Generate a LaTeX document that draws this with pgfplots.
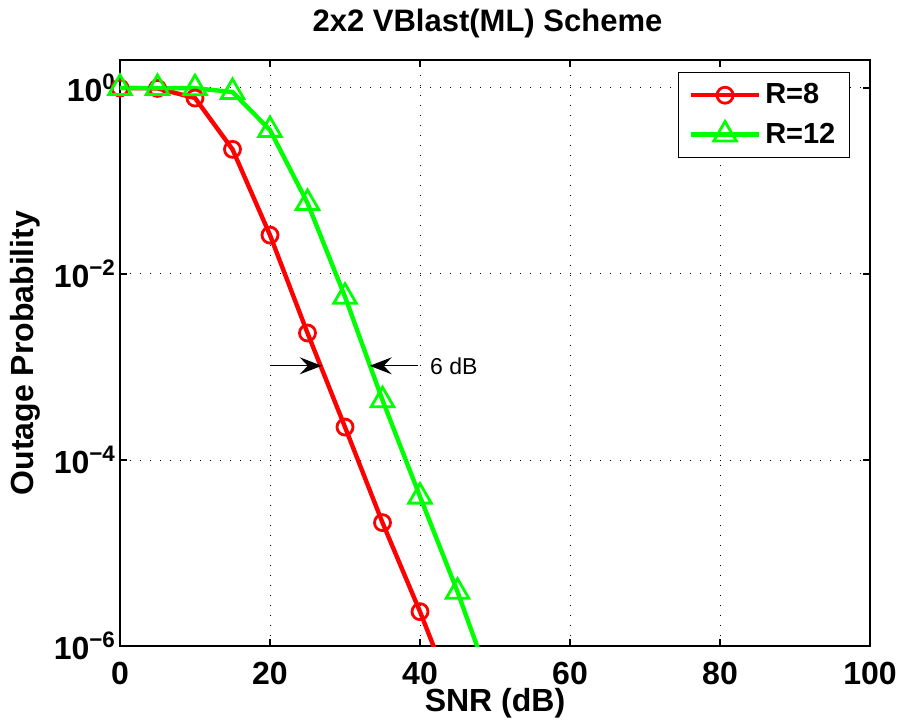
\documentclass[border=0pt]{standalone}
\usepackage{fontspec}
\setmainfont{Liberation Sans}
\usepackage{pgfplots}
\pgfplotsset{compat=1.18}
\usetikzlibrary{arrows.meta}
\definecolor{mred}{RGB}{255,0,0}
\definecolor{mgreen}{RGB}{0,255,0}
\pgfplotstableread{
x y
0 1.0
5 0.99
10 0.78
15 0.219
20 0.0262
25 0.00232
30 2.26e-4
35 2.12e-5
40 2.34e-6
45 2.2e-7
}\rate
\pgfplotstableread{
x y
0 1.0
5 1.0
10 0.995
15 0.905
20 0.353
25 0.058
30 0.0057
35 4.4e-4
40 4.04e-5
45 3.84e-6
50 2.9e-7
}\ratetwelve
\begin{document}
\begin{tikzpicture}
\begin{axis}[
  scale only axis,
  width=375pt, height=293pt,
  ymode=log,
  xmin=0, xmax=100,
  ymin=1e-6, ymax=2,
  axis line style={line width=0.8pt},
  every tick/.style={black, line width=0.6pt},
  major tick length=3.75pt,
  tick align=inside,
  xtick={0,20,40,60,80,100},
  xticklabels={0,20,40,60,80,100},
  ytick={1e-6,1e-4,1e-2,1},
  yticklabels={{10\textsuperscript{−6}},{10\textsuperscript{−4}},{10\textsuperscript{−2}},{10\textsuperscript{0}}},
  yminorticks=false,
  /pgf/number format/assume math mode=true,
  ticklabel style={font=\fontsize{16}{19}\selectfont\bfseries},
  xticklabel style={anchor=base, yshift=-19pt, inner xsep=0pt},
  yticklabel style={yshift=0pt, xshift=1.5pt},
  grid=major,
  major grid style={black, line width=0.5pt, dash pattern=on 0.6pt off 4.4pt},
  clip=true,
  title={2x2 VBlast(ML) Scheme},
  every axis title/.style={font=\fontsize{15.5}{18}\selectfont\bfseries, at={(axis description cs:0.49,1.062)}, anchor=center},
  xlabel={SNR (dB)},
  every axis x label/.style={font=\fontsize{16}{19}\selectfont\bfseries, at={(axis description cs:0.5,-0.111)}, anchor=base},
  ylabel={Outage Probability},
  every axis y label/.style={font=\fontsize{16}{19}\selectfont\bfseries, at={(axis description cs:-0.115,0.5)}, anchor=base, rotate=90},
  legend style={at={(rel axis cs:0.9733,0.9795)}, anchor=north east, draw=black, line width=0.6pt,
    font=\fontsize{14.5}{17}\selectfont\bfseries, inner xsep=5pt, inner ysep=3.5pt,
    row sep=4pt, nodes={inner sep=2pt}},
  legend cell align=left,
  legend image code/.code={\draw[mark repeat=2,mark phase=2] plot coordinates {(0pt,0pt) (17pt,0pt) (34pt,0pt)};},
]
\addplot[color=mred, line width=2.2pt, mark=o, mark size=4pt, mark options={line width=1.4pt, solid}] table[x=x,y=y] {\rate};
\addlegendentry{R=8}
\addplot[color=mgreen, line width=2.2pt, mark=triangle, mark size=6.5pt, mark options={line width=1.4pt, solid}] table[x=x,y=y] {\ratetwelve};
\addlegendentry{R=12}
\draw[line width=0.6pt, black, -{Stealth[length=11pt,width=8.5pt,inset=4pt]}] (axis cs:20,1.03e-3) -- (axis cs:26.9,1.03e-3);
\draw[line width=0.6pt, black, -{Stealth[length=11pt,width=8.5pt,inset=4pt]}] (axis cs:39.7,1.03e-3) -- (axis cs:33.3,1.03e-3);
\node[anchor=west, font=\fontsize{11.5}{13}\selectfont, inner sep=0pt] at (axis cs:41.3,1.03e-3) {6 dB};
\end{axis}
\path ([xshift=-60pt,yshift=-40.5pt]current axis.south west) rectangle ([xshift=13.5pt,yshift=30pt]current axis.north east);
\end{tikzpicture}
\end{document}
